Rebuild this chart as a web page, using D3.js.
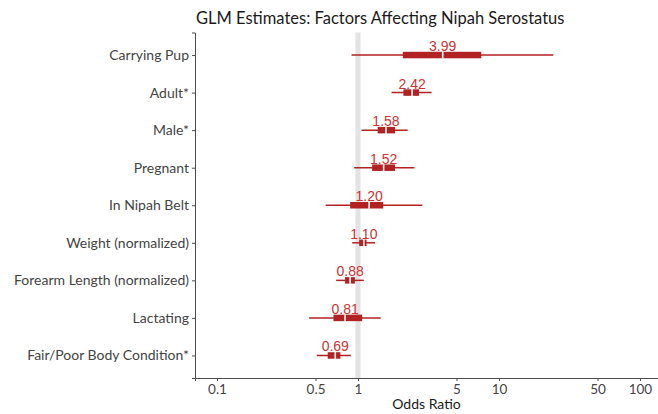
<!DOCTYPE html>
<html lang="en">
  <head>
    <meta charset="UTF-8" />
    <title>GLM Estimates: Factors Affecting Nipah Serostatus</title>
    <script src="https://cdnjs.cloudflare.com/ajax/libs/d3/7.8.5/d3.min.js"></script>
    <style>
      body { margin: 0; background: #fff; }
      svg { display: block; }
      .title { font-family: Lato, sans-serif; font-size: 16.5px; fill: #1a1a1a; }
      .ylab { font-family: Lato, sans-serif; font-size: 14px; fill: #444; }
      .xlab { font-family: Lato, sans-serif; font-size: 13.5px; fill: #444; }
      .axis-title { font-family: Lato, sans-serif; font-size: 14px; fill: #1a1a1a; }
      .est { font-family: "Liberation Sans", Arial, sans-serif; font-size: 14px; fill: #cc3333; }
    </style>
  </head>
  <body>
    <svg width="658" height="414"></svg>
    <script>
      // 变量（从上到下）
      const factors = [
        "Carrying Pup",
        "Adult*",
        "Male*",
        "Pregnant",
        "In Nipah Belt",
        "Weight (normalized)",
        "Forearm Length (normalized)",
        "Lactating",
        "Fair/Poor Body Condition*"
      ];
      const estimates = [3.99, 2.42, 1.58, 1.52, 1.2, 1.1, 0.88, 0.81, 0.69];
      // 内区间（粗线）
      const innerLo = [2.08, 2.1, 1.38, 1.26, 0.88, 1.02, 0.81, 0.67, 0.61];
      const innerHi = [7.49, 2.71, 1.83, 1.83, 1.51, 1.15, 0.95, 1.07, 0.75];
      // 外区间（细线）
      const outerLo = [0.9, 1.73, 1.06, 0.94, 0.59, 0.91, 0.7, 0.45, 0.51];
      const outerHi = [24.3, 3.33, 2.25, 2.51, 2.86, 1.32, 1.1, 1.45, 0.89];
      const xTicks = [0.1, 0.5, 1, 5, 10, 50, 100];

      const rows = factors.map((f, i) => ({
        name: f,
        est: estimates[i],
        lo: innerLo[i],
        hi: innerHi[i],
        lo2: outerLo[i],
        hi2: outerHi[i]
      }));

      const panel = { left: 195, right: 658, top: 32.5, bottom: 378 };
      const red = "#b22222";

      const svg = d3.select("svg");

      const x = d3
        .scaleLog()
        .domain([Math.pow(10, -1.156), Math.pow(10, 2.128)])
        .range([panel.left, panel.right]);

      const y = d3
        .scalePoint()
        .domain(factors)
        .range([panel.top, panel.bottom])
        .padding(0.6);

      // 参考线 OR = 1
      svg
        .append("line")
        .attr("x1", x(1))
        .attr("x2", x(1))
        .attr("y1", panel.top)
        .attr("y2", panel.bottom)
        .attr("stroke", "#e3e3e3")
        .attr("stroke-width", 5);

      // 坐标轴
      const xAxis = svg
        .append("g")
        .attr("transform", `translate(0,${panel.bottom})`)
        .call(d3.axisBottom(x).tickValues(xTicks).tickFormat(d3.format("~g")).tickSize(3).tickPadding(3));
      const yAxis = svg
        .append("g")
        .attr("transform", `translate(${panel.left},0)`)
        .call(d3.axisLeft(y).tickSize(3).tickPadding(3));

      [xAxis, yAxis].forEach(g => {
        g.select(".domain").attr("stroke", "#4d4d4d").attr("stroke-width", 1);
        g.selectAll(".tick line").attr("stroke", "#4d4d4d");
        g.selectAll(".tick text").attr("fill", null).attr("font-family", null).attr("font-size", null);
      });
      xAxis.selectAll(".tick text").attr("class", "xlab");
      yAxis.selectAll(".tick text").attr("class", "ylab");

      const g = svg.append("g");

      // 外区间
      g.selectAll(".whisker")
        .data(rows)
        .join("line")
        .attr("x1", d => x(d.lo2))
        .attr("x2", d => x(d.hi2))
        .attr("y1", d => y(d.name))
        .attr("y2", d => y(d.name))
        .attr("stroke", red)
        .attr("stroke-width", 1.5);

      // 内区间
      g.selectAll(".box")
        .data(rows)
        .join("rect")
        .attr("x", d => x(d.lo))
        .attr("width", d => x(d.hi) - x(d.lo))
        .attr("y", d => y(d.name) - 3.25)
        .attr("height", 6.5)
        .attr("fill", red);

      // 估计值白色分隔
      g.selectAll(".gap")
        .data(rows)
        .join("line")
        .attr("x1", d => x(d.est))
        .attr("x2", d => x(d.est))
        .attr("y1", d => y(d.name) - 3.5)
        .attr("y2", d => y(d.name) + 3.5)
        .attr("stroke", "#fff")
        .attr("stroke-width", 1.6);

      // 估计值文字
      g.selectAll(".est")
        .data(rows)
        .join("text")
        .attr("class", "est")
        .attr("x", d => x(d.est))
        .attr("y", d => y(d.name) - 4)
        .attr("text-anchor", "middle")
        .text(d => d3.format(".2f")(d.est));

      svg
        .append("text")
        .attr("class", "title")
        .attr("x", panel.left + 1)
        .attr("y", 24)
        .text("GLM Estimates: Factors Affecting Nipah Serostatus");

      svg
        .append("text")
        .attr("class", "axis-title")
        .attr("x", (panel.left + panel.right) / 2)
        .attr("y", 409)
        .attr("text-anchor", "middle")
        .text("Odds Ratio");
    </script>
  </body>
</html>
